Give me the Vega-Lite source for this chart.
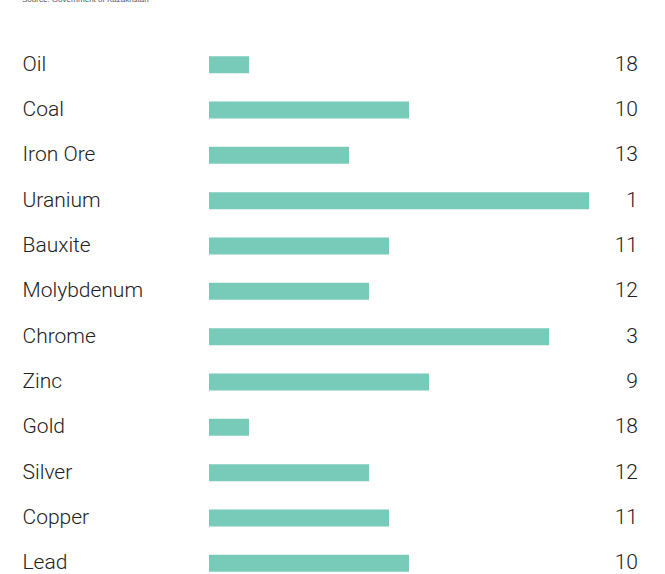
{
  "$schema": "https://vega.github.io/schema/vega-lite/v6.json",
  "width": 429,
  "height": 544,
  "autosize": {"type": "none"},
  "padding": {"left": 209, "top": 42, "right": 27, "bottom": 0},
  "background": "white",
  "title": {
    "text": "Source: Government of Kazakhstan",
    "fontSize": 8,
    "font": "Liberation Sans",
    "fontWeight": "normal",
    "color": "#555555",
    "anchor": "start",
    "frame": "bounds",
    "offset": 38
  },
  "data": {
    "values": [
      {"mineral": "Oil", "rank": 18},
      {"mineral": "Coal", "rank": 10},
      {"mineral": "Iron Ore", "rank": 13},
      {"mineral": "Uranium", "rank": 1},
      {"mineral": "Bauxite", "rank": 11},
      {"mineral": "Molybdenum", "rank": 12},
      {"mineral": "Chrome", "rank": 3},
      {"mineral": "Zinc", "rank": 9},
      {"mineral": "Gold", "rank": 18},
      {"mineral": "Silver", "rank": 12},
      {"mineral": "Copper", "rank": 11},
      {"mineral": "Lead", "rank": 10}
    ]
  },
  "encoding": {
    "y": {
      "field": "mineral",
      "type": "nominal",
      "sort": null,
      "scale": {"paddingInner": 0.625, "paddingOuter": 0.3125},
      "axis": {
        "title": null,
        "domain": false,
        "ticks": false,
        "labelAlign": "left",
        "labelPadding": 187,
        "labelFont": "Roboto",
        "labelFontWeight": 300,
        "labelFontSize": 21,
        "labelColor": "#222222",
        "labelLimit": 0
      }
    }
  },
  "layer": [
    {
      "mark": {"type": "bar", "color": "#78cbb9", "clip": false},
      "encoding": {
        "x": {
          "field": "rank",
          "type": "quantitative",
          "scale": {"domain": [20, -1.45], "nice": false, "zero": false},
          "axis": null
        },
        "x2": {"datum": 20}
      }
    },
    {
      "mark": {
        "type": "text",
        "align": "right",
        "baseline": "middle",
        "font": "Roboto",
        "fontWeight": 300,
        "fontSize": 21,
        "color": "#222222"
      },
      "encoding": {
        "x": {"value": "width"},
        "text": {"field": "rank", "type": "quantitative"}
      }
    }
  ],
  "config": {"view": {"stroke": null}}
}
